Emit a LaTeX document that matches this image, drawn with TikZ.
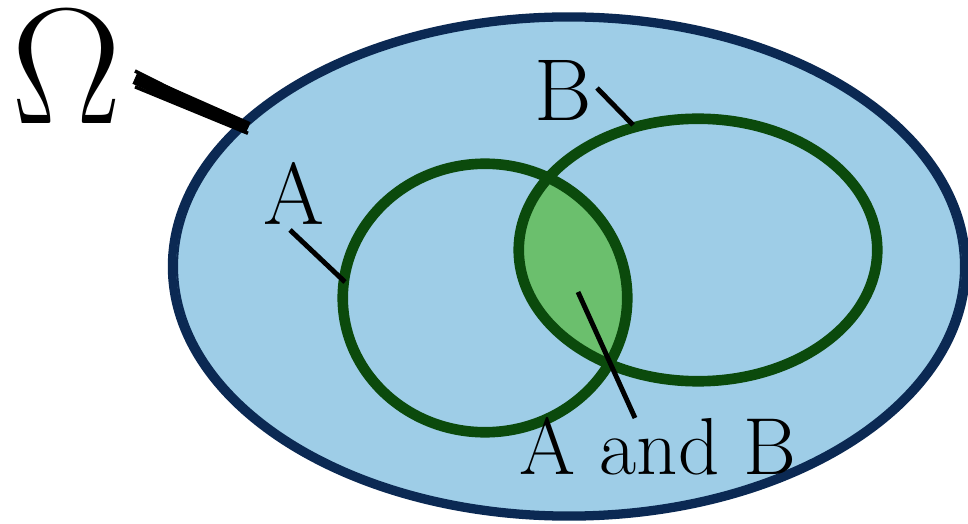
\documentclass[tikz,border=0pt]{standalone}
\definecolor{skyfill}{HTML}{9ECDE7}
\definecolor{navyline}{HTML}{0B2953}
\definecolor{ringgreen}{HTML}{0B4A0C}
\definecolor{lensgreen}{HTML}{6BBF6D}
\tikzset{
  omegaring/.style={draw=navyline, line width=2.4pt},
  setring/.style={draw=ringgreen, line width=2.6pt},
  sketchstroke/.style={draw=ringgreen, line width=0.6pt},
  pointer/.style={draw=black, line width=1.4pt},
  biglabel/.style={font=\fontsize{47}{50}\selectfont, inner sep=0pt},
  setlabel/.style={font=\fontsize{25}{28}\selectfont, inner sep=0pt},
  smalllabel/.style={font=\fontsize{23}{26}\selectfont, inner sep=0pt},
}
\begin{document}
\begin{tikzpicture}
\useasboundingbox (0,0) rectangle (9.68,-5.23);
% universe
\path[fill=skyfill, omegaring] (5.69,-2.665) ellipse [x radius=3.97, y radius=2.5];
\draw[navyline, line width=0.6pt] (5.69,-2.665) ellipse [x radius=3.92, y radius=2.46];
% intersection
\begin{scope}
  \clip (4.85,-2.98) ellipse [x radius=1.43, y radius=1.35];
  \fill[lensgreen] (6.98,-2.50) ellipse [x radius=1.80, y radius=1.32];
\end{scope}
% rings
\path[setring] (4.85,-2.98) ellipse [x radius=1.43, y radius=1.35];
\path[sketchstroke] (4.85,-2.98) ellipse [x radius=1.38, y radius=1.30];
\path[setring] (6.98,-2.50) ellipse [x radius=1.80, y radius=1.32];
\path[sketchstroke] (6.98,-2.50) ellipse [x radius=1.75, y radius=1.27];
% labels
\node[biglabel] (om) at (0.665,-0.66) {Ω};
\node[setlabel] (la) at (2.94,-1.93) {A};
\node[setlabel] (lb) at (5.63,-0.90) {B};
\node[smalllabel] (lab) at (6.58,-4.46) {A and B};
% pointer coordinates
\coordinate (omA) at (1.35,-0.78);
\coordinate (omB) at (2.48,-1.28);
\coordinate (aA) at (2.90,-2.30);
\coordinate (aB) at (3.45,-2.82);
\coordinate (bA) at (5.97,-0.88);
\coordinate (bB) at (6.33,-1.25);
\coordinate (abA) at (5.78,-2.92);
\coordinate (abB) at (6.35,-4.18);
% pointers
\draw[black, line width=3.6pt] (omA) -- (omB);
\draw[black, line width=1.0pt] ([yshift=2pt]omA) -- ([yshift=0pt]omB);
\draw[black, line width=1.0pt] ([yshift=-2.5pt]omA) -- ([yshift=-1.5pt]omB);
\draw[pointer] (aA) -- (aB);
\draw[pointer] (bA) -- (bB);
\draw[pointer] (abA) -- (abB);
\end{tikzpicture}
\end{document}
